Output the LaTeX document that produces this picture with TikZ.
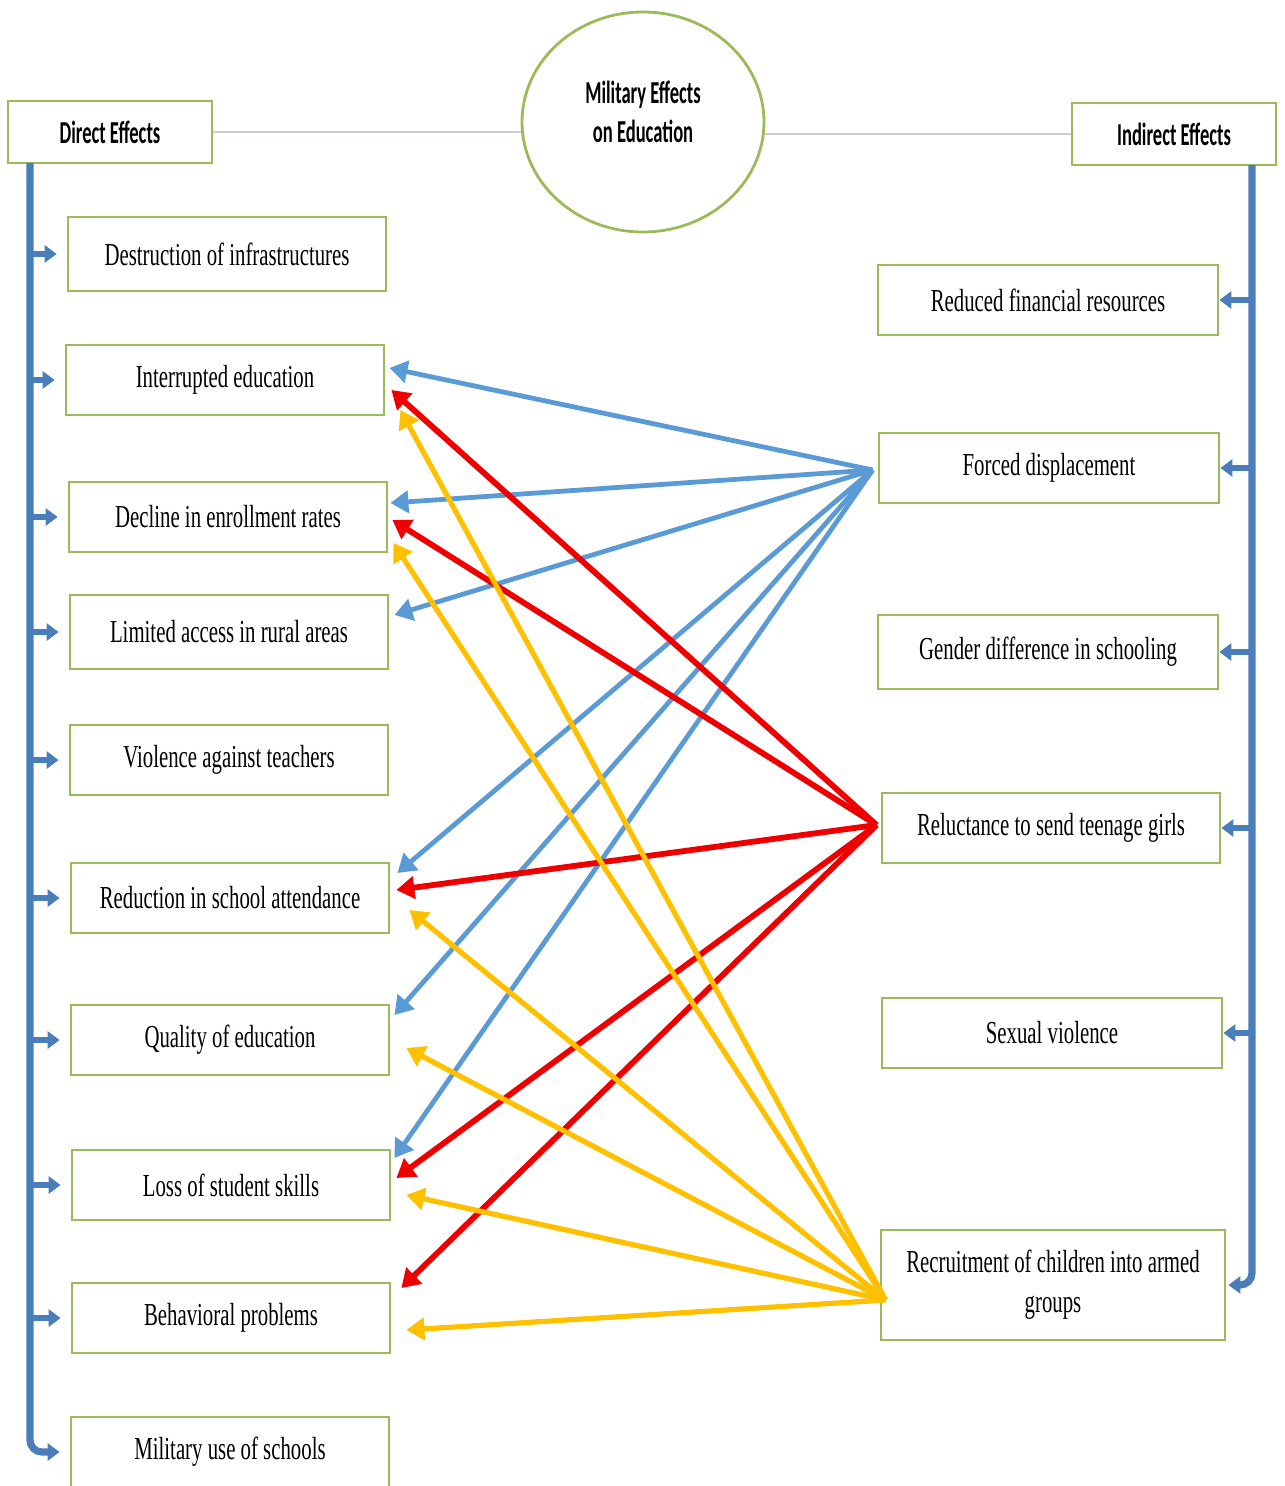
\documentclass[tikz,border=0pt]{standalone}
\usepackage{fontspec}
\usepackage{tikz}
\usetikzlibrary{positioning, calc, arrows.meta, shapes.geometric}
\setmainfont{Liberation Serif}
\newfontfamily\boxfont[FakeStretch=0.65]{Liberation Serif}
\newfontfamily\headfont[FakeStretch=0.58]{Carlito}
\definecolor{boxgreen}{RGB}{155,187,89}
\definecolor{busblue}{RGB}{74,126,187}
\definecolor{flowblue}{RGB}{91,155,213}
\definecolor{flowred}{RGB}{238,0,0}
\definecolor{flowgold}{RGB}{255,192,0}
\definecolor{hubline}{RGB}{200,208,208}
\tikzset{
  effect/.style={draw=boxgreen, line width=1.4pt, minimum width=159pt, minimum height=35pt,
    inner sep=0pt, align=center, font=\boxfont\fontsize{16}{20}\selectfont},
  headbox/.style={draw=boxgreen, line width=1.4pt, minimum width=102pt, minimum height=31pt,
    inner sep=0pt, font=\headfont\bfseries\fontsize{16}{19}\selectfont},
  bus/.style={draw=busblue, line width=3.6pt, rounded corners=6pt},
  branch/.style={draw=busblue, line width=3pt, -{Triangle[length=6pt,width=8.5pt]}},
  flow/.style={line width=2.6pt, -{Triangle[length=9pt,width=11pt]}},
}
\begin{document}
\begin{tikzpicture}[x=0.5pt, y=-0.5pt]
    \useasboundingbox (0,0) rectangle (1284,1486);
    % top row
    \node[headbox] (direct) at (110,132) {Direct Effects};
    \node[ellipse, draw=boxgreen, line width=1.4pt, minimum width=121pt, minimum height=110pt,
      align=center, font=\headfont\bfseries\fontsize{16}{19.5}\selectfont] (hub) at (643,122)
      {Military Effects\\on Education\\[-9pt]};
    \node[headbox] (indirect) at (1174,134) {Indirect Effects};
    \draw[hubline, line width=1pt] (direct.east) -- (direct.east -| hub.west);
    \draw[hubline, line width=1pt] (hub.east |- indirect.west) -- (indirect.west);

    % direct effects
    \node[effect, minimum height=37pt] (dest) at (227,254) {Destruction of infrastructures};
    \node[effect] (intr)  at (225,380)  {Interrupted education};
    \node[effect] (decl)  at (228,517)  {Decline in enrollment rates};
    \node[effect, minimum height=37pt] (limit) at (229,632) {Limited access in rural areas};
    \node[effect] (viol)  at (229,760)  {Violence against teachers};
    \node[effect] (redu)  at (230,898)  {Reduction in school attendance};
    \node[effect] (qual)  at (230,1040) {Quality of education};
    \node[effect] (loss)  at (231,1185) {Loss of student skills};
    \node[effect] (behav) at (231,1318) {Behavioral problems};
    \node[effect] (milit) at (230,1452) {Military use of schools};

    % indirect effects
    \node[effect, minimum width=170pt] (fin)     at (1048,300)  {Reduced financial resources};
    \node[effect, minimum width=170pt] (forced)  at (1049,468)  {Forced displacement};
    \node[effect, minimum width=170pt, minimum height=37pt] (gender) at (1048,652) {Gender difference in schooling};
    \node[effect, minimum width=169pt] (reluct)  at (1051,828)  {Reluctance to send teenage girls};
    \node[effect, minimum width=170pt] (sexual)  at (1052,1033) {Sexual violence};
    \node[effect, minimum width=172pt, minimum height=55pt] (recruit) at (1053,1285)
      {Recruitment of children into armed\\groups};

    % buses
    \coordinate (lbus) at (30,163);
    \coordinate (rbus) at (1252,165);
    \draw[bus, -{Triangle[length=6pt,width=8.5pt]}] (lbus) |- ([xshift=-5pt]milit.west);
    \draw[bus, -{Triangle[length=6pt,width=8.5pt]}] (rbus) |- ([xshift=1pt]recruit.east);
    \draw[branch, shorten >=5pt] (lbus |- dest.west) -- (dest.west);
    \draw[branch, shorten >=5pt] (lbus |- intr.west) -- (intr.west);
    \draw[branch, shorten >=5pt] (lbus |- decl.west) -- (decl.west);
    \draw[branch, shorten >=5pt] (lbus |- limit.west) -- (limit.west);
    \draw[branch, shorten >=5pt] (lbus |- viol.west) -- (viol.west);
    \draw[branch, shorten >=5pt] (lbus |- redu.west) -- (redu.west);
    \draw[branch, shorten >=5pt] (lbus |- qual.west) -- (qual.west);
    \draw[branch, shorten >=5pt] (lbus |- loss.west) -- (loss.west);
    \draw[branch, shorten >=5pt] (lbus |- behav.west) -- (behav.west);
    \draw[branch] (rbus |- fin.east) -- (fin.east);
    \draw[branch] (rbus |- forced.east) -- (forced.east);
    \draw[branch] (rbus |- gender.east) -- (gender.east);
    \draw[branch] (rbus |- reluct.east) -- (reluct.east);
    \draw[branch] (rbus |- sexual.east) -- (sexual.east);

    % forced displacement
    \draw[flow, flowblue, line width=2.4pt] ([shift={(-5,2)}]forced.west) -- ([shift={(4,-12)}]intr.east);
    \draw[flow, flowblue, line width=2.4pt] ([shift={(-5,2)}]forced.west) -- ([shift={(2,-14)}]decl.east);
    \draw[flow, flowblue, line width=2.4pt] ([shift={(-5,2)}]forced.west) -- ([shift={(5,-17)}]limit.east);
    \draw[flow, flowblue, line width=2.4pt] ([shift={(-5,2)}]forced.west) -- ([shift={(7,-25)}]redu.east);
    \draw[flow, flowblue, line width=2.4pt] ([shift={(-5,2)}]forced.west) -- ([shift={(4,-25)}]qual.east);
    \draw[flow, flowblue, line width=2.4pt] ([shift={(-5,2)}]forced.west) -- ([shift={(3,-27)}]loss.east);
    % reluctance
    \draw[flow, flowred, line width=2.9pt] ([shift={(-4,-3)}]reluct.west) -- ([shift={(6,10)}]intr.east);
    \draw[flow, flowred, line width=2.9pt] ([shift={(-4,-3)}]reluct.west) -- ([shift={(4,3)}]decl.east);
    \draw[flow, flowred, line width=2.9pt] ([shift={(-4,-3)}]reluct.west) -- ([shift={(6,-8)}]redu.east);
    \draw[flow, flowred, line width=2.9pt] ([shift={(-4,-3)}]reluct.west) -- ([shift={(5,-7)}]loss.east);
    \draw[flow, flowred, line width=2.9pt] ([shift={(-4,-3)}]reluct.west) -- ([shift={(10,-30)}]behav.east);
    % recruitment
    \draw[flow, flowgold] ([shift={(6,15)}]recruit.west) -- ([shift={(15,30)}]intr.east);
    \draw[flow, flowgold] ([shift={(6,15)}]recruit.west) -- ([shift={(5,26)}]decl.east);
    \draw[flow, flowgold] ([shift={(6,15)}]recruit.west) -- ([shift={(19,12)}]redu.east);
    \draw[flow, flowgold] ([shift={(6,15)}]recruit.west) -- ([shift={(16,8)}]qual.east);
    \draw[flow, flowgold] ([shift={(6,15)}]recruit.west) -- ([shift={(15,10)}]loss.east);
    \draw[flow, flowgold] ([shift={(6,15)}]recruit.west) -- ([shift={(15,12)}]behav.east);
\end{tikzpicture}
\end{document}
